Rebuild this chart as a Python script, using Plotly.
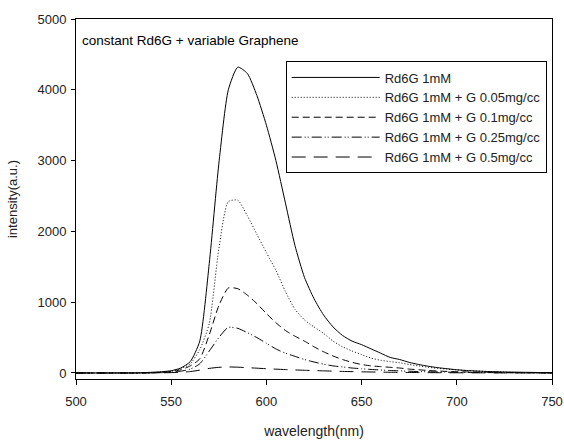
import plotly.graph_objects as go

wavelength = [500, 505, 510, 515, 520, 525, 530, 535, 540, 545, 550, 555, 560, 565, 570, 575,
              580, 585, 590, 595, 600, 605, 610, 615, 620, 625, 630, 635, 640, 645, 650, 655,
              660, 665, 670, 675, 680, 685, 690, 695, 700, 705, 710, 715, 720, 725, 730, 735,
              740, 745, 750]

rd6g = [0, 0, 0, 0, 0, 0, 0, 5, 10, 18, 32, 70, 160, 450, 1550, 2950,
        4000, 4320, 4230, 3920, 3500, 3000, 2400, 1800, 1350, 1050, 820, 650, 530, 450, 400, 340,
        280, 220, 190, 150, 120, 95, 75, 60, 45, 35, 28, 22, 18, 14, 12, 10,
        8, 6, 5]

g005 = [0, 0, 0, 0, 0, 0, 0, 2, 5, 12, 25, 60, 130, 330, 700, 1750,
        2420, 2440, 2220, 1960, 1700, 1450, 1150, 900, 750, 650, 560, 450, 370, 310, 260, 210,
        180, 160, 145, 120, 100, 80, 65, 55, 45, 35, 28, 22, 18, 12, 8, 5,
        3, 2, 1]

g01 = [0, 0, 0, 0, 0, 0, 0, 1, 3, 8, 20, 45, 100, 200, 540, 950,
       1200, 1190, 1100, 980, 840, 710, 600, 520, 450, 370, 300, 240, 190, 150, 120, 100,
       90, 80, 70, 55, 45, 35, 28, 22, 18, 15, 12, 10, 8, 6, 5, 4,
       3, 2, 2]

g025 = [0, 0, 0, 0, 0, 0, 0, 0, 2, 5, 10, 25, 55, 130, 310, 500,
        645, 630, 570, 500, 420, 340, 280, 235, 190, 155, 125, 100, 85, 70, 60, 50,
        42, 35, 30, 25, 20, 17, 14, 12, 10, 8, 7, 6, 5, 4, 3, 3,
        2, 2, 1]

g05 = [0, 0, 0, 0, 0, 0, 0, 0, 1, 3, 5, 10, 20, 40, 65, 80,
       85, 82, 75, 68, 60, 54, 48, 43, 38, 34, 30, 26, 22, 19, 16, 14,
       12, 10, 8, 7, 6, 5, 4, 3, 3, 2, 2, 2, 1, 1, 1, 1,
       0, 0, 0]

series_names = ["Rd6G 1mM", "Rd6G 1mM + G 0.05mg/cc", "Rd6G 1mM + G 0.1mg/cc",
                "Rd6G 1mM + G 0.25mg/cc", "Rd6G 1mM + G 0.5mg/cc"]
series_values = [rd6g, g005, g01, g025, g05]
dashes = ["solid", "1px,2px", "7px,4px", "10px,3px,1px,2px,1px,3px", "14px,8px"]

x_ticks = [500, 550, 600, 650, 700, 750]
y_ticks = [0, 1000, 2000, 3000, 4000, 5000]

fig = go.Figure()
for name, vals, d in zip(series_names, series_values, dashes):
    fig.add_trace(go.Scatter(x=wavelength, y=vals, mode="lines", name=name,
                             line=dict(color="black", width=1, dash=d,
                                       shape="spline", smoothing=0.6)))

font_family = "Liberation Sans, Arial, sans-serif"

fig.update_layout(
    width=564, height=441,
    margin=dict(l=76, r=12, t=19, b=62, autoexpand=False),
    paper_bgcolor="white", plot_bgcolor="white",
    font=dict(family=font_family, color="#222222", size=13),
    showlegend=True,
    legend=dict(x=0.4405, y=0.882, xanchor="left", yanchor="top",
                bgcolor="white", bordercolor="black", borderwidth=1,
                font=dict(size=13, color="#222222"), itemwidth=88,
                tracegroupgap=0),
    annotations=[dict(text="constant Rd6G + variable Graphene", xref="paper", yref="paper",
                      x=0.008, y=0.94, xanchor="left", yanchor="middle", showarrow=False,
                      font=dict(size=13.5, color="black", family=font_family))],
)

fig.update_xaxes(range=[500, 750], tickvals=x_ticks, ticks="outside", ticklen=5,
                 tickcolor="black", showline=True, linecolor="black", linewidth=1,
                 mirror=True, showgrid=False, zeroline=False, automargin=False,
                 ticklabelstandoff=5,
                 title=dict(text="wavelength(nm)", font=dict(size=14), standoff=18))
fig.update_yaxes(range=[-85, 5000], tickvals=y_ticks, ticks="outside", ticklen=4,
                 tickcolor="black", showline=True, linecolor="black", linewidth=1,
                 mirror=True, showgrid=False, zeroline=False, ticklabelstandoff=2,
                 automargin=False,
                 title=dict(text="intensity(a.u.)", font=dict(size=13), standoff=16))

fig.write_html("out.html", config={"displayModeBar": False},
               post_script="document.body.style.margin='0';document.body.style.overflow='hidden';")
